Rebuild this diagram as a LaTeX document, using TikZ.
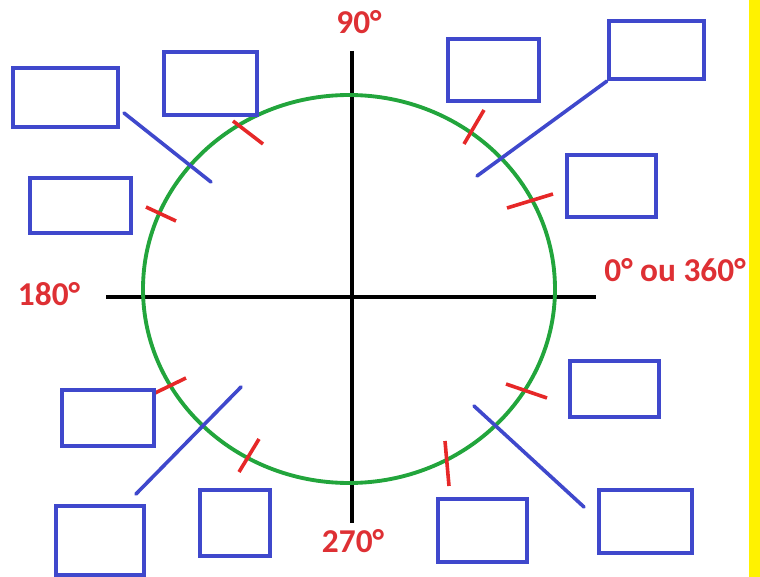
\documentclass[tikz,border=0pt]{standalone}
\usepackage{fontspec}
\setmainfont{Carlito}
\usetikzlibrary{calc, positioning}
\definecolor{boxblue}{RGB}{63,72,204}
\definecolor{ringgreen}{RGB}{34,165,60}
\definecolor{tickred}{RGB}{230,40,40}
\definecolor{labelred}{RGB}{222,48,52}
\definecolor{sideyellow}{RGB}{255,242,0}
\tikzset{
  slot/.style args={#1x#2}{draw=boxblue, line width=3.3pt, inner sep=0pt,
    minimum width=#1*0.75pt, minimum height=#2*0.75pt},
  pointer/.style={boxblue, line width=2.7pt, line cap=round},
  notch/.style={tickred, line width=2.7pt},
  degree/.style={text=labelred, inner sep=0pt,
    font=\fontsize{25}{28}\selectfont\bfseries}
}

\begin{document}
\begin{tikzpicture}[x=0.75pt, y=-0.75pt]
  \useasboundingbox (0,0) rectangle (760,577);
  \fill[sideyellow] (749,0) rectangle (760,577);
  \def\cx{349}
  \def\cy{289}

  % axes and circle
  \draw[line width=3.3pt] (352,51) -- (352,523);
  \draw[line width=3.3pt] (106,297) -- (596,297);
  \draw[ringgreen, line width=2.9pt] (\cx,\cy) ellipse [x radius=206, y radius=194];

  \node[degree] (deg90) at (359,22.5) {90°};
  \node[degree] (deg180) at (49,294) {180°};
  \node[degree] (deg0) at (675,270) {0° ou 360°};
  \node[degree] (deg270) at (353,541.5) {270°};

  % red marks on the circle
  \draw[notch] (233,121) -- (263,144);
  \draw[notch] (146,207) -- (176,221);
  \draw[notch] (484,110) -- (464,144);
  \draw[notch] (507,208) -- (553,194);
  \draw[notch] (155,393) -- (186,378);
  \draw[notch] (259,439) -- (239,472);
  \draw[notch] (506,384) -- (547,398);
  \draw[notch] (445,441) -- (449,486);

  % empty boxes
  \node[slot=105x59] (boxA) at (65.5,97.5) {};
  \node[slot=93x63] (boxB) at (210.5,83.5) {};
  \node[slot=101x55] (boxC) at (80.5,205.5) {};
  \node[slot=91x62] (boxD) at (493.5,70) {};
  \node[slot=95x58] (boxE) at (656.5,50) {};
  \node[slot=89x62] (boxF) at (611.5,186) {};
  \node[slot=92x56] (boxG) at (108,418) {};
  \node[slot=88x69] (boxH) at (100,540.5) {};
  \node[slot=70x66] (boxI) at (235,523) {};
  \node[slot=89x56] (boxJ) at (614.5,389) {};
  \node[slot=93x63] (boxK) at (645.5,521.5) {};
  \node[slot=89x63] (boxL) at (482.5,530.5) {};

  % pointers
  \coordinate (endA1) at (124,113);
  \coordinate (endA2) at (211,182);
  \coordinate (endE) at (477,176);
  \coordinate (endH1) at (136,494);
  \coordinate (endH2) at (241,387);
  \coordinate (endK1) at (584,507);
  \coordinate (endK2) at (474,406);
  \draw[pointer] (endA1) -- (endA2);
  \draw[pointer] (boxE.south west) -- (endE);
  \draw[pointer] (endH1) -- (endH2);
  \draw[pointer] (endK1) -- (endK2);
\end{tikzpicture}
\end{document}
